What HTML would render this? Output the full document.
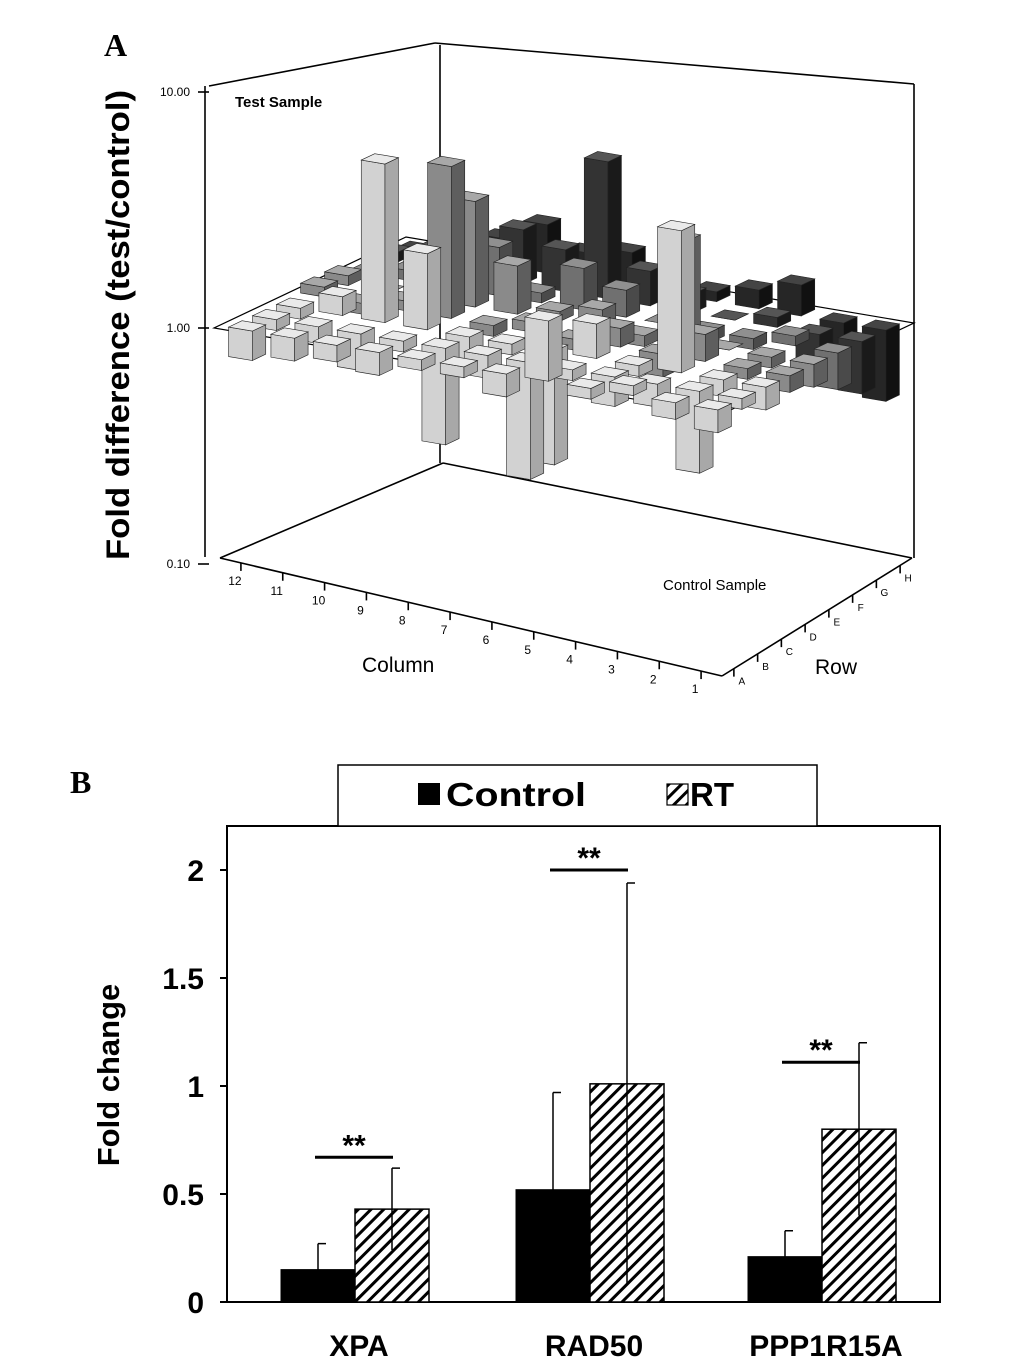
<!DOCTYPE html>
<html><head><meta charset="utf-8"><style>
body{margin:0;background:#fff;}
svg{display:block;font-family:"Liberation Sans",sans-serif;}
</style></head><body>
<svg id="fig" width="1033" height="1368" viewBox="0 0 1033 1368">
<text x="104" y="56" font-family="Liberation Serif" font-weight="bold" font-size="32">A</text>
<text x="70" y="793" font-family="Liberation Serif" font-weight="bold" font-size="32">B</text>
<g id="pa"></g>
<g id="pb"></g>
</svg>
<script>
// ---------- Panel A data (rows A..H, columns 1..12) ----------
const rowsA = ['A','B','C','D','E','F','G','H'];
const colsA = [1,2,3,4,5,6,7,8,9,10,11,12];
const foldA = [
 [0.8,0.85,1.1,0.9,1.8,0.8,0.9,0.9,0.8,0.85,0.8,0.75],
 [0.9,0.45,0.8,0.75,0.9,0.32,0.8,0.39,0.9,0.7,0.85,0.9],
 [0.8,0.85,4.0,0.9,1.4,0.33,0.9,0.8,2.1,4.7,1.2,0.9],
 [0.85,0.9,1.3,0.8,1.2,0.9,1.1,0.9,4.4,1.1,0.9,1.1],
 [0.8,0.9,1.0,2.7,0.9,1.2,1.1,1.6,2.8,1.3,1.0,1.1],
 [0.7,1.1,0.9,0.9,1.0,1.3,1.5,1.1,1.6,1.2,1.1,1.0],
 [0.6,0.7,1.1,1.0,1.2,1.4,3.8,1.5,1.7,1.3,1.2,1.1],
 [0.5,0.8,1.35,1.2,1.1,1.0,1.4,1.3,1.6,1.3,1.1,1.0]
];
// ---------- Panel B data ----------
const genes = ['XPA','RAD50','PPP1R15A'];
const controlVals = [0.15,0.52,0.21];
const controlErr = [0.12,0.45,0.12];
const rtVals = [0.43,1.01,0.80];
const rtErr = [0.19,0.93,0.40];
const sigLevels = [0.67,2.0,1.11];
const yTicks = [0,0.5,1,1.5,2];
const yTickLabels = ['0','0.5','1','1.5','2'];

const NS='http://www.w3.org/2000/svg';
function mk(tag,attrs,parent,txt){const e=document.createElementNS(NS,tag);for(const k in attrs)e.setAttribute(k,attrs[k]);if(txt!==undefined)e.textContent=txt;parent.appendChild(e);return e;}

// ---------- Panel A ----------
const pa=document.getElementById('pa');
const decade=236;
function logY(v){return Math.log10(v)*decade;}
function P(c,r){
  return [722 + c/12*(-508) + r/8*192, 414 - c/12*86 - r/8*91];
}
const ln=(x1,y1,x2,y2,n)=>{const e=mk('line',{x1,y1,x2,y2,stroke:'#000','stroke-width':1.6},pa);return e;};
ln(209,86,435,43,'frame-top-left');ln(435,43,914,84,'frame-top-right');
ln(440,45,440,463,'frame-back-edge');ln(914,84,914,558,'frame-right-edge');
ln(205,86,205,557,'y-axis-line');
ln(220,558,443,463,'floor-left-back');ln(443,463,912,558,'floor-back-right');
ln(220,558,722,676,'floor-column-edge');ln(722,676,912,558,'floor-row-edge');
[[10,'10.00'],[1,'1.00'],[0.1,'0.10']].forEach(t=>{
  const y=328-logY(t[0]);
  ln(198,y,209,y,'y-tick');
  const tx=mk('text',{x:190,y:y+4,'font-size':12,'text-anchor':'end'},pa,t[1]);
  
  
});
const pl=[P(0,0),P(12,0),P(12,8),P(0,8)];
const plane=mk('polygon',{points:pl.map(p=>p.join(',')).join(' '),fill:'none',stroke:'#000','stroke-width':1.2},pa);


const cells=[];
for(let r=0;r<8;r++)for(let c=0;c<12;c++)cells.push([c,r]);
cells.sort((a,b)=>(b[0]/12+b[1]/8)-(a[0]/12+a[1]/8));
const shades=[['#d2d2d2','#a8a8a8','#eaeaea'],['#d2d2d2','#a8a8a8','#eaeaea'],['#d2d2d2','#a8a8a8','#eaeaea'],
 ['#8a8a8a','#5e5e5e','#a8a8a8'],['#8a8a8a','#5e5e5e','#a8a8a8'],['#707070','#4a4a4a','#909090'],
 ['#333','#1a1a1a','#555'],['#262626','#111','#444']];
cells.forEach(([c,r])=>{
  const v=foldA[r][c];
  const c0=c+0.22,c1=c+0.78,r0=r+0.22,r1=r+0.78;
  const hTop=Math.max(logY(v),0), hBot=Math.min(logY(v),0);
  const sh=shades[r];
  const g=mk('g',{},pa);
  
  
  const pt=(cc,rr,h)=>{const p=P(cc,rr);return [p[0],p[1]-h];};
  const poly=(pts,f)=>mk('polygon',{points:pts.map(p=>p.join(',')).join(' '),fill:f,stroke:'#222','stroke-width':0.6},g);
  poly([pt(c0,r0,hTop),pt(c1,r0,hTop),pt(c1,r0,hBot),pt(c0,r0,hBot)],sh[0]);
  poly([pt(c0,r0,hTop),pt(c0,r1,hTop),pt(c0,r1,hBot),pt(c0,r0,hBot)],sh[1]);
  poly([pt(c0,r0,hTop),pt(c1,r0,hTop),pt(c1,r1,hTop),pt(c0,r1,hTop)],sh[2]);
});
colsA.forEach((n,i)=>{
  const t=(i+0.5)/12;
  const x=722+t*(-502), y=676+t*(-118);
  ln(x,y,x,y+8,'column-tick');
  const tx=mk('text',{x:x-6,y:y+22,'font-size':12,'text-anchor':'middle'},pa,String(n));
  
  
});
rowsA.forEach((n,i)=>{
  const t=(i+0.5)/8;
  const x=722+t*190, y=676+t*(-118);
  ln(x,y,x,y+8,'row-tick');
  const tx=mk('text',{x:x+8,y:y+16,'font-size':10,'text-anchor':'middle'},pa,n);
  
  
});
[['Test Sample',235,107,15,'bold','test-sample-label'],['Control Sample',663,590,15,'normal','control-sample-label'],
 ['Column',362,672,21,'normal','column-axis-title'],['Row',815,674,21,'normal','row-axis-title']].forEach(a=>{
  const tx=mk('text',{x:a[1],y:a[2],'font-size':a[3],'font-weight':a[4]},pa,a[0]);
  
  
});
const yt=mk('text',{x:0,y:0,'font-size':32,'font-weight':'bold','text-anchor':'middle',textLength:470,lengthAdjust:'spacingAndGlyphs',transform:'translate(129,325) rotate(-90)'},pa,'Fold difference (test/control)');



// ---------- Panel B ----------
const pb=document.getElementById('pb');
mk('defs',{},pb).innerHTML='<pattern id="hatch" width="9" height="9" patternUnits="userSpaceOnUse" patternTransform="rotate(45)"><rect width="9" height="9" fill="#fff"/><rect width="3" height="9" fill="#000"/></pattern>';
const X0=227,X1=940,Ytop=826,Ybase=1302,unit=216;
const ys=v=>Ybase-v*unit;
const centers=[355,590,822], bw=74;
const frame=mk('rect',{x:X0,y:Ytop,width:X1-X0,height:Ybase-Ytop,fill:'none',stroke:'#000','stroke-width':2},pb);


yTicks.forEach((v,i)=>{
  const t=mk('line',{x1:X0-7,x2:X0,y1:ys(v),y2:ys(v),stroke:'#000','stroke-width':2},pb);
  
  
  const tx=mk('text',{x:204,y:ys(v)+11,'font-size':30,'font-weight':'bold','text-anchor':'end'},pb,yTickLabels[i]);
  
  
});
genes.forEach((g,i)=>{
  const cx=centers[i];
  const b1=mk('rect',{x:cx-bw,y:ys(controlVals[i]),width:bw,height:controlVals[i]*unit,fill:'#000',stroke:'#000'},pb);
  
  
  const b2=mk('rect',{x:cx,y:ys(rtVals[i]),width:bw,height:rtVals[i]*unit,fill:'url(#hatch)',stroke:'#000','stroke-width':1.5},pb);
  
  
  const ex1=cx-bw/2, ex2=cx+bw/2;
  const e1=mk('path',{d:`M${ex1},${ys(controlVals[i])}V${ys(controlVals[i]+controlErr[i])}M${ex1},${ys(controlVals[i]+controlErr[i])}h8`,stroke:'#000','stroke-width':1.5,fill:'none'},pb);
  
  
  const e2=mk('path',{d:`M${ex2},${ys(rtVals[i]-rtErr[i])}V${ys(rtVals[i]+rtErr[i])}M${ex2},${ys(rtVals[i]+rtErr[i])}h8`,stroke:'#000','stroke-width':1.5,fill:'none'},pb);
  
  
  const sy=ys(sigLevels[i]);
  const sl=mk('line',{x1:cx-40,x2:cx+38,y1:sy,y2:sy,stroke:'#000','stroke-width':3},pb);
  
  
  const st=mk('text',{x:cx-1,y:sy-2,'font-size':30,'font-weight':'bold','text-anchor':'middle'},pb,'**');
  
  
  const xl=mk('text',{x:cx+4,y:1356,'font-size':30,'font-weight':'bold','text-anchor':'middle'},pb,g);
  
  
});
const ytb=mk('text',{x:0,y:0,'font-size':31,'font-weight':'bold','text-anchor':'middle',transform:'translate(119,1075) rotate(-90)'},pb,'Fold change');


const lg=mk('g',{},pb);


mk('rect',{x:338,y:765,width:479,height:61,fill:'#fff',stroke:'#000','stroke-width':1.5},lg);
const ls1=mk('rect',{x:418,y:783,width:22,height:22,fill:'#000'},lg);


const lt1=mk('text',{x:446,y:806,'font-size':33,'font-weight':'bold',textLength:140,lengthAdjust:'spacingAndGlyphs'},lg,'Control');


const ls2=mk('rect',{x:667,y:784,width:21,height:21,fill:'url(#hatch)',stroke:'#000','stroke-width':1.2},lg);


const lt2=mk('text',{x:690,y:806,'font-size':33,'font-weight':'bold'},lg,'RT');


</script>
</body></html>
